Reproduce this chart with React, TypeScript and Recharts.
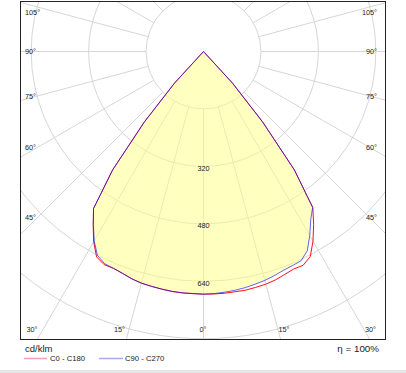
import React from 'react';
import { RadarChart, Radar, PolarGrid, PolarAngleAxis, PolarRadiusAxis } from 'recharts';

// gamma angles (deg) of one half plane
const GAMMA = [0, 2.5, 5, 7.5, 10, 12.5, 15, 17.5, 20, 22.5, 25, 27.5, 30, 32.5, 35, 37.5, 40, 42.5, 45,
  47.5, 50, 52.5, 55, 57.5, 60, 62.5, 65, 67.5, 70, 72.5, 75, 77.5, 80, 82.5, 85, 87.5, 90,
  92.5, 95, 97.5, 100, 102.5, 105, 107.5, 110, 112.5, 115, 117.5, 120, 122.5, 125, 127.5, 130, 132.5, 135,
  137.5, 140, 142.5, 145, 147.5, 150, 152.5, 155, 157.5, 160, 162.5, 165, 167.5, 170, 172.5, 175, 177.5, 180];

// cd/klm, right half of C0-C180 (C0)
const C0 = [676, 676, 676, 675, 675, 673, 671, 667, 661, 656, 657, 644, 610, 571, 531, 416, 257, 120, 0,
  0, 0, 0, 0, 0, 0, 0, 0, 0, 0, 0, 0, 0, 0, 0, 0, 0, 0, 0, 0, 0, 0, 0, 0, 0, 0, 0, 0, 0, 0, 0, 0, 0, 0, 0,
  0, 0, 0, 0, 0, 0, 0, 0, 0, 0, 0, 0, 0, 0, 0, 0, 0, 0, 0];
// left half of C0-C180 (C180)
const C180 = [676, 675, 675, 674, 672, 670, 668, 664, 658, 654, 655, 645, 612, 572, 534, 416, 257, 120, 0,
  0, 0, 0, 0, 0, 0, 0, 0, 0, 0, 0, 0, 0, 0, 0, 0, 0, 0, 0, 0, 0, 0, 0, 0, 0, 0, 0, 0, 0, 0, 0, 0, 0, 0, 0,
  0, 0, 0, 0, 0, 0, 0, 0, 0, 0, 0, 0, 0, 0, 0, 0, 0, 0, 0];
// right half of C90-C270 (C90)
const C90 = [676, 675, 673, 671, 668, 664, 660, 655, 649, 646, 643, 626, 592, 556, 530, 416, 257, 120, 0,
  0, 0, 0, 0, 0, 0, 0, 0, 0, 0, 0, 0, 0, 0, 0, 0, 0, 0, 0, 0, 0, 0, 0, 0, 0, 0, 0, 0, 0, 0, 0, 0, 0, 0, 0,
  0, 0, 0, 0, 0, 0, 0, 0, 0, 0, 0, 0, 0, 0, 0, 0, 0, 0, 0];
// left half of C90-C270 (C270)
const C270 = [676, 675, 675, 674, 672, 670, 668, 664, 658, 654, 652, 640, 609, 571, 534, 416, 257, 120, 0,
  0, 0, 0, 0, 0, 0, 0, 0, 0, 0, 0, 0, 0, 0, 0, 0, 0, 0, 0, 0, 0, 0, 0, 0, 0, 0, 0, 0, 0, 0, 0, 0, 0, 0, 0,
  0, 0, 0, 0, 0, 0, 0, 0, 0, 0, 0, 0, 0, 0, 0, 0, 0, 0, 0];

const RING_VALUES = [160, 320, 480, 640, 800];
const RING_LABELS = [320, 480, 640];
const SPOKE_GAMMAS = [0, 15, 30, 45, 60, 75, 90, 105, 120, 135, 150, 165, 180, 195, 210, 225, 240, 255, 270, 285, 300, 315, 330, 345];
const SIDE_LABELS = ['105°', '90°', '75°', '60°', '45°'];
const BOTTOM_LABELS = ['30°', '15°', '0°', '15°', '30°'];
const SERIES_NAMES = ['C0 - C180', 'C90 - C270'];
const UNIT = 'cd/klm';
const EFFICIENCY = 'η = 100%';

// table for the radar: index runs counter-clockwise on screen from the bottom
const rows: { a: number; c0c180: number; c90c270: number }[] = [];
for (let i = 0; i < GAMMA.length; i++) rows.push({ a: GAMMA[i], c0c180: C0[i], c90c270: C90[i] });
for (let i = GAMMA.length - 2; i >= 1; i--) rows.push({ a: 360 - GAMMA[i], c0c180: C180[i], c90c270: C270[i] });

const FONT = "'Liberation Sans', Arial, sans-serif";
const GRID = '#d6d6d6';
const CW = 364;
const CH = 337;
const CX = 182.5;
const CY = 49.5;
const RMAX = 800;
const R = 287.2;
// the angle axis places point i one band after startAngle, so start one band earlier
const START = -90 - 360 / rows.length;

const renderRingLabel = (p: any) => {
  const v = p?.payload?.value;
  if (!RING_LABELS.includes(v)) return <g />;
  return (
    <text x={p.x} y={p.y + 4.3} textAnchor="middle" fontSize={7.3} fill="#222" fontFamily={FONT}>
      {v}
    </text>
  );
};

export default function App() {
  const spokeAngles = SPOKE_GAMMAS.map((g) => g - 90);
  const sideY = [14.9, 53.6, 99.3, 149.9, 219.9];
  const bottomX = [26.5, 119.5, 203, 284, 376];
  const bottomAnchor = ['start', 'middle', 'middle', 'middle', 'end'];
  return (
    <div style={{ position: 'absolute', left: 0, top: 0, width: 406, height: 373, background: '#fff' }}>
      <div style={{ position: 'absolute', left: 21, top: 2 }}>
        <RadarChart width={CW} height={CH} cx={CX} cy={CY} innerRadius={(R * RING_VALUES[0]) / RMAX} outerRadius={520}
          data={rows} margin={{ top: 0, right: 0, bottom: 0, left: 0 }}>
          <PolarGrid gridType="circle" polarRadius={[]} polarAngles={spokeAngles} stroke={GRID} />
        </RadarChart>
      </div>
      <div style={{ position: 'absolute', left: 21, top: 2 }}>
        <RadarChart width={CW} height={CH} cx={CX} cy={CY} outerRadius={R} startAngle={START} endAngle={START + 360}
          data={rows} margin={{ top: 0, right: 0, bottom: 0, left: 0 }}>
          <PolarGrid gridType="circle" radialLines={false} stroke={GRID} />
          <PolarAngleAxis dataKey="a" tick={false} axisLine={false} tickLine={false} />
          <PolarRadiusAxis angle={-90} type="number" domain={[0, RMAX]} ticks={RING_VALUES} tickCount={6}
            axisLine={false} tick={renderRingLabel} />
          <Radar dataKey="c90c270" fill="#ffff80" fillOpacity={0.5} stroke="none" dot={false} isAnimationActive={false} />
          <Radar dataKey="c0c180" fill="none" stroke="#ff1010" strokeWidth={1} dot={false} isAnimationActive={false} />
          <Radar dataKey="c90c270" fill="none" stroke="#1010ff" strokeOpacity={0.65} strokeWidth={1} dot={false} isAnimationActive={false} />
        </RadarChart>
      </div>
      <svg width={406} height={373} style={{ position: 'absolute', left: 0, top: 0, pointerEvents: 'none' }}>
        <rect x={20.5} y={1.5} width={365} height={338} fill="none" stroke="#222" strokeWidth={1} />
        {SIDE_LABELS.map((t, i) => (
          <g key={'s' + i} fontFamily={FONT} fontSize={7.3} fill="#222">
            <text x={25} y={sideY[i]} textAnchor="start">{t}</text>
            <text x={377} y={sideY[i]} textAnchor="end">{t}</text>
          </g>
        ))}
        {BOTTOM_LABELS.map((t, i) => (
          <text key={'b' + i} x={bottomX[i]} y={332} textAnchor={bottomAnchor[i] as any} fontFamily={FONT} fontSize={7.3} fill="#222">{t}</text>
        ))}
        <text x={25} y={352} fontFamily={FONT} fontSize={9.5} fill="#222">{UNIT}</text>
        <text x={379} y={352} textAnchor="end" fontFamily={FONT} fontSize={9.8} fill="#222">{EFFICIENCY}</text>
        <line x1={24} y1={358.5} x2={47} y2={358.5} stroke="#f4a0b2" strokeWidth={1.5} />
        <text x={50} y={361.2} fontFamily={FONT} fontSize={7.7} fill="#222">{SERIES_NAMES[0]}</text>
        <line x1={99} y1={358.5} x2={123} y2={358.5} stroke="#a8a8f2" strokeWidth={1.5} />
        <text x={125} y={361.2} fontFamily={FONT} fontSize={7.7} fill="#222">{SERIES_NAMES[1]}</text>
        <rect x={0} y={370} width={406} height={3} fill="#e6e6e6" />
      </svg>
    </div>
  );
}
